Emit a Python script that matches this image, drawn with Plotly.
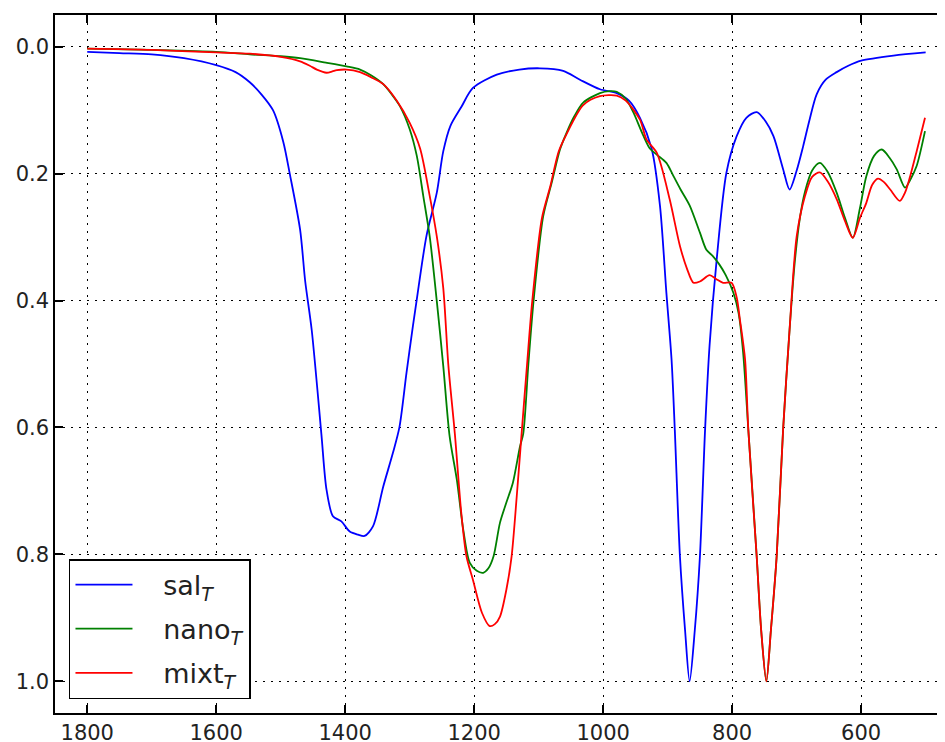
import plotly.graph_objects as go

# ---- data (wavenumber, absorbance) ----
sal_x = [1800, 1750, 1700, 1650, 1600, 1570, 1548, 1530, 1512, 1496, 1486, 1470, 1462, 1452,
         1437, 1429, 1419, 1406, 1393, 1380, 1370, 1357, 1341, 1326, 1316, 1305, 1295,
         1289, 1274, 1258, 1248, 1237, 1220, 1202, 1165, 1130, 1098, 1062, 1036, 1005, 979,
         960, 943, 925, 912, 902, 894, 889, 881, 873, 866, 858, 850, 842, 835, 824, 809,
         793, 778, 762, 748, 736, 721, 711, 700, 690, 680, 669, 655, 638, 620, 600, 550, 500]
sal_y = [0.008, 0.010, 0.012, 0.018, 0.029, 0.040, 0.056, 0.075, 0.100, 0.150, 0.200, 0.288, 0.370, 0.446,
         0.610, 0.698, 0.740, 0.748, 0.764, 0.769, 0.771, 0.756, 0.693, 0.640, 0.600, 0.514, 0.440,
         0.398, 0.298, 0.230, 0.165, 0.125, 0.095, 0.065, 0.044, 0.036, 0.034, 0.038, 0.052, 0.067, 0.073,
         0.085, 0.112, 0.160, 0.250, 0.388, 0.493, 0.603, 0.803, 0.920, 1.000, 0.920, 0.803, 0.603, 0.470, 0.335, 0.199,
         0.141, 0.112, 0.103, 0.118, 0.141, 0.193, 0.225, 0.195, 0.157, 0.115, 0.075, 0.052, 0.040, 0.030, 0.022, 0.014, 0.009]

nano_x = [1800, 1700, 1600, 1548, 1500, 1470, 1430, 1398, 1377, 1360, 1341, 1328, 1315, 1300,
          1289, 1279, 1269, 1258, 1248, 1238, 1227, 1217, 1207, 1196, 1186, 1178, 1170, 1160,
          1150, 1140, 1129, 1124, 1116, 1108, 1093, 1080, 1067, 1057, 1045, 1031, 1005, 990,
          979, 965, 953, 940, 928, 917, 902, 891, 880, 866, 850, 840, 830, 820, 810, 798,
          790, 783, 775, 762, 755, 747, 740, 731, 721, 711, 703, 695, 687, 676, 664, 652,
          638, 625, 613, 602, 592, 580, 568, 556, 545, 532, 524, 514, 501]
nano_y = [0.003, 0.005, 0.008, 0.012, 0.015, 0.018, 0.025, 0.031, 0.036, 0.045, 0.059, 0.075, 0.094, 0.130,
          0.172, 0.235, 0.299, 0.401, 0.503, 0.615, 0.682, 0.761, 0.813, 0.826, 0.829, 0.822, 0.803, 0.750,
          0.718, 0.687, 0.630, 0.610, 0.500, 0.401, 0.267, 0.215, 0.162, 0.136, 0.110, 0.088, 0.073, 0.070,
          0.071, 0.082, 0.104, 0.135, 0.160, 0.170, 0.183, 0.204, 0.225, 0.250, 0.293, 0.320, 0.330, 0.343, 0.360, 0.388,
          0.420, 0.482, 0.603, 0.803, 0.920, 1.000, 0.920, 0.803, 0.603, 0.446, 0.340, 0.270, 0.228, 0.195, 0.183, 0.197,
          0.230, 0.270, 0.301, 0.255, 0.204, 0.172, 0.162, 0.175, 0.193, 0.222, 0.210, 0.188, 0.133]

mixt_x = [1800, 1700, 1600, 1548, 1500, 1470, 1455, 1444, 1429, 1420, 1413, 1398, 1377, 1360,
          1341, 1320, 1300, 1284, 1269, 1258, 1248, 1240, 1230, 1220, 1212, 1202, 1188, 1176,
          1168, 1160, 1150, 1142, 1134, 1126, 1118, 1110, 1095, 1082, 1069, 1057, 1031, 1005,
          979, 965, 943, 933, 917, 897, 881, 870, 860, 850, 835, 825, 814, 801, 793, 788,
          780, 775, 762, 755, 747, 740, 731, 721, 711, 700, 687, 676, 664, 652, 638, 625,
          613, 602, 592, 583, 574, 565, 555, 540, 532, 524, 514, 501]
mixt_y = [0.003, 0.005, 0.009, 0.011, 0.016, 0.023, 0.030, 0.036, 0.041, 0.039, 0.037, 0.036, 0.040, 0.048,
          0.059, 0.085, 0.120, 0.160, 0.235, 0.299, 0.380, 0.503, 0.610, 0.735, 0.803, 0.840, 0.892, 0.913,
          0.910, 0.898, 0.855, 0.803, 0.708, 0.603, 0.500, 0.401, 0.270, 0.220, 0.165, 0.138, 0.092, 0.078,
          0.077, 0.085, 0.115, 0.146, 0.167, 0.240, 0.314, 0.350, 0.372, 0.370, 0.360, 0.366, 0.372, 0.372, 0.395, 0.430,
          0.493, 0.603, 0.803, 0.920, 1.000, 0.920, 0.803, 0.603, 0.446, 0.299, 0.235, 0.205, 0.198, 0.212, 0.240, 0.275,
          0.301, 0.270, 0.246, 0.218, 0.208, 0.213, 0.225, 0.243, 0.230, 0.204, 0.165, 0.112]

x_ticks = [1800, 1600, 1400, 1200, 1000, 800, 600]
y_ticks = [0.0, 0.2, 0.4, 0.6, 0.8, 1.0]

series = [
    ("sal<sub><i>T</i></sub>", sal_x, sal_y, "#0000ff"),
    ("nano<sub><i>T</i></sub>", nano_x, nano_y, "#008000"),
    ("mixt<sub><i>T</i></sub>", mixt_x, mixt_y, "#ff0000"),
]

fig = go.Figure()
for i, (name, xs, ys, col) in enumerate(series):
    fig.add_trace(go.Scatter(
        x=xs, y=ys, mode="lines", name="&nbsp;&nbsp;&nbsp;" + name, legendgroup=str(i),
        line=dict(color=col, width=1.8, shape="spline", smoothing=0.8),
    ))

font = dict(family="DejaVu Sans", size=21, color="#222222")
# page body has an 8px default margin, so the figure is shifted by 8px
fig.update_layout(
    width=945, height=742,
    margin=dict(l=47, r=8, t=7, b=37),
    paper_bgcolor="white", plot_bgcolor="white",
    font=font,
    showlegend=True,
    legend=dict(
        x=0.0157, y=0.02, xanchor="left", yanchor="bottom",
        bgcolor="white", bordercolor="#000000", borderwidth=1.5,
        font=dict(family="DejaVu Sans", size=27, color="#222222"),
        tracegroupgap=6, itemwidth=57,
    ),
    xaxis=dict(
        range=[1850, 470], tickvals=x_ticks, ticktext=[str(v) for v in x_ticks],
        showgrid=True, gridcolor="#000000", gridwidth=1, griddash="2px,6px",
        showline=True, linecolor="#000000", linewidth=1.5, mirror="ticks",
        ticks="inside", ticklen=8, tickwidth=1.5, tickcolor="#000000",
        zeroline=False, tickfont=font, automargin=False,
    ),
    yaxis=dict(
        range=[1.05, -0.05], tickvals=y_ticks, ticktext=[f"{v:.1f}" for v in y_ticks],
        showgrid=True, gridcolor="#000000", gridwidth=1, griddash="2px,6px",
        showline=True, linecolor="#000000", linewidth=1.5,
        ticks="inside", ticklen=8, tickwidth=1.5, tickcolor="#000000",
        zeroline=False, tickfont=font, automargin=False,
    ),
)

fig.write_html("out.html")
